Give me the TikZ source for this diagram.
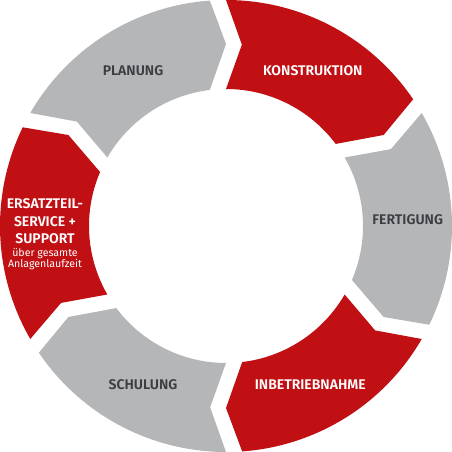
\documentclass[tikz,border=0pt]{standalone}
\usepackage{fontspec}
\setmainfont{Fira Sans}[BoldFont={Fira Sans SemiBold}]
\usetikzlibrary{calc}

\definecolor{cyclered}{RGB}{192,16,20}
\definecolor{cyclegrey}{RGB}{181,182,184}
\definecolor{labelgrey}{RGB}{58,61,66}

\begin{document}
\begin{tikzpicture}[x=1pt,y=1pt,
	redpart/.style={fill=cyclered},
	greypart/.style={fill=cyclegrey},
	onred/.style={text=white,font=\fontsize{14}{17.5}\selectfont\bfseries},
	ongrey/.style={text=labelgrey,font=\fontsize{14}{17.5}\selectfont\bfseries}]

		\useasboundingbox (-226,-226) rectangle (226,226);
		\coordinate (O) at (0,0);

		% ring parts, each one starts at its back edge and runs clockwise
		\fill[greypart] (150:226) arc[start angle=150, end angle=94.1, radius=226] -- (90:182) -- (96.8:137) arc[start angle=96.8, end angle=150, radius=137] -- (145:182) -- cycle;
		\fill[redpart] (90:226) arc[start angle=90, end angle=34.1, radius=226] -- (30:182) -- (36.8:137) arc[start angle=36.8, end angle=90, radius=137] -- (85:182) -- cycle;
		\fill[greypart] (30:226) arc[start angle=30, end angle=-25.9, radius=226] -- (-30:182) -- (-23.2:137) arc[start angle=-23.2, end angle=30, radius=137] -- (25:182) -- cycle;
		\fill[redpart] (-30:226) arc[start angle=-30, end angle=-85.9, radius=226] -- (-90:182) -- (-83.2:137) arc[start angle=-83.2, end angle=-30, radius=137] -- (-35:182) -- cycle;
		\fill[greypart] (-90:226) arc[start angle=-90, end angle=-145.9, radius=226] -- (-150:182) -- (-143.2:137) arc[start angle=-143.2, end angle=-90, radius=137] -- (-95:182) -- cycle;
		\fill[redpart] (-150:226) arc[start angle=-150, end angle=-205.9, radius=226] -- (-210:182) -- (-203.2:137) arc[start angle=-203.2, end angle=-150, radius=137] -- (-155:182) -- cycle;

		\node[ongrey] (planung) at (-93,155.3) {PLANUNG};
		\node[onred] (konstruktion) at (86.8,155.3) {KONSTRUKTION};
		\node[ongrey] (fertigung) at (181.7,6.7) {FERTIGUNG};
		\node[onred] (inbetriebnahme) at (84.3,-158.3) {INBETRIEBNAHME};
		\node[ongrey] (schulung) at (-83,-158.3) {SCHULUNG};
		\node[onred, align=center] (service) at (-181,-8.5)
			{ERSATZTEIL-\\SERVICE +\\SUPPORT\\[-5pt]
			{\fontsize{10.6}{12.3}\selectfont\mdseries über gesamte}\\[-6pt]
			{\fontsize{10.6}{12.3}\selectfont\mdseries Anlagenlaufzeit}};

\end{tikzpicture}
\end{document}
